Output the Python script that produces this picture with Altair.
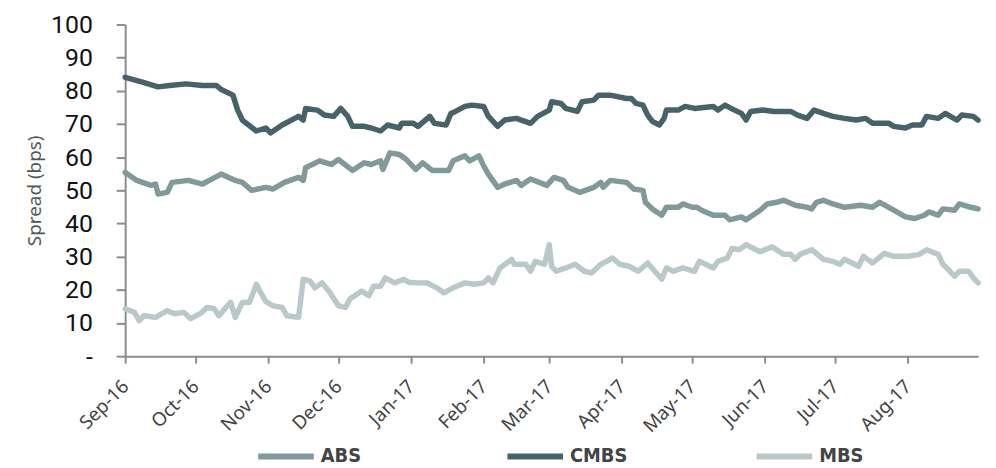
import altair as alt
import pandas as pd

series_names = ["ABS", "CMBS", "MBS"]
series_colors = ["#809a9c", "#46636a", "#b9c9c9"]

month_ticks = ["2016-09-01", "2016-10-01", "2016-11-01", "2016-12-01", "2017-01-01", "2017-02-01",
               "2017-03-01", "2017-04-01", "2017-05-01", "2017-06-01", "2017-07-01", "2017-08-01"]
y_ticks = [0, 10, 20, 30, 40, 50, 60, 70, 80, 90, 100]

cmbs_dates = ["2016-09-01", "2016-09-08", "2016-09-15", "2016-09-20", "2016-09-27", "2016-10-04", "2016-10-10",
              "2016-10-12", "2016-10-17", "2016-10-19", "2016-10-21", "2016-10-27", "2016-10-31", "2016-11-02",
              "2016-11-07", "2016-11-14", "2016-11-16", "2016-11-17", "2016-11-22", "2016-11-25", "2016-11-29",
              "2016-12-02", "2016-12-05", "2016-12-07", "2016-12-12", "2016-12-15", "2016-12-19", "2016-12-22",
              "2016-12-27", "2016-12-28", "2017-01-02", "2017-01-04", "2017-01-09", "2017-01-11", "2017-01-16",
              "2017-01-18", "2017-01-20", "2017-01-24", "2017-01-27", "2017-02-01", "2017-02-03", "2017-02-07",
              "2017-02-10", "2017-02-15", "2017-02-21", "2017-02-24", "2017-03-01", "2017-03-02", "2017-03-06",
              "2017-03-08", "2017-03-13", "2017-03-15", "2017-03-20", "2017-03-22", "2017-03-27", "2017-04-03",
              "2017-04-05", "2017-04-07", "2017-04-10", "2017-04-12", "2017-04-14", "2017-04-17", "2017-04-19",
              "2017-04-20", "2017-04-25", "2017-04-28", "2017-05-02", "2017-05-10", "2017-05-12", "2017-05-15",
              "2017-05-19", "2017-05-22", "2017-05-24", "2017-05-26", "2017-05-31", "2017-06-05", "2017-06-12",
              "2017-06-15", "2017-06-19", "2017-06-22", "2017-06-26", "2017-06-30", "2017-07-05", "2017-07-10",
              "2017-07-14", "2017-07-17", "2017-07-24", "2017-07-26", "2017-07-31", "2017-08-03", "2017-08-07",
              "2017-08-09", "2017-08-14", "2017-08-17", "2017-08-22", "2017-08-24", "2017-08-29", "2017-08-31"]
cmbs_values = [84.1, 82.7, 81.2, 81.6, 82.1, 81.6, 81.6,
               80.4, 78.7, 74.2, 71.2, 67.9, 68.8, 67.3,
               69.7, 72.3, 71.2, 74.7, 74.2, 72.7, 72.3,
               74.7, 72.3, 69.3, 69.3, 68.8, 67.9, 69.7,
               68.8, 70.2, 70.2, 69.3, 72.3, 70.2, 69.7,
               73.2, 73.8, 75.3, 75.7, 75.3, 72.3, 69.3,
               71.2, 71.7, 70.2, 72.3, 74.2, 76.7, 76.2,
               74.7, 73.8, 76.7, 77.2, 78.7, 78.7, 77.7,
               77.7, 76.2, 75.7, 72.7, 70.8, 69.7, 71.7,
               74.2, 74.2, 75.3, 74.7, 75.3, 74.2, 75.7,
               74.2, 73.2, 71.2, 73.8, 74.2, 73.8, 73.8,
               72.7, 71.7, 74.2, 73.2, 72.3, 71.7, 71.2,
               71.7, 70.2, 70.2, 69.3, 68.8, 69.7, 69.7,
               72.3, 71.7, 73.2, 71.2, 72.7, 72.3, 71.2]

abs_dates = ["2016-09-01", "2016-09-06", "2016-09-12", "2016-09-14", "2016-09-15", "2016-09-19", "2016-09-21",
             "2016-09-28", "2016-10-04", "2016-10-11", "2016-10-12", "2016-10-18", "2016-10-21", "2016-10-25",
             "2016-10-31", "2016-11-03", "2016-11-08", "2016-11-14", "2016-11-16", "2016-11-17", "2016-11-23",
             "2016-11-28", "2016-12-01", "2016-12-07", "2016-12-12", "2016-12-15", "2016-12-19", "2016-12-20",
             "2016-12-23", "2016-12-27", "2016-12-30", "2017-01-03", "2017-01-06", "2017-01-10", "2017-01-17",
             "2017-01-19", "2017-01-24", "2017-01-26", "2017-01-30", "2017-02-01", "2017-02-03", "2017-02-07",
             "2017-02-10", "2017-02-15", "2017-02-17", "2017-02-21", "2017-02-28", "2017-03-03", "2017-03-07",
             "2017-03-09", "2017-03-14", "2017-03-20", "2017-03-23", "2017-03-24", "2017-03-27", "2017-04-03",
             "2017-04-06", "2017-04-10", "2017-04-11", "2017-04-14", "2017-04-18", "2017-04-20", "2017-04-25",
             "2017-04-27", "2017-05-01", "2017-05-03", "2017-05-05", "2017-05-10", "2017-05-15", "2017-05-17",
             "2017-05-22", "2017-05-24", "2017-05-30", "2017-06-02", "2017-06-06", "2017-06-09", "2017-06-14",
             "2017-06-19", "2017-06-21", "2017-06-23", "2017-06-26", "2017-06-30", "2017-07-05", "2017-07-12",
             "2017-07-17", "2017-07-20", "2017-07-26", "2017-07-31", "2017-08-04", "2017-08-08", "2017-08-10",
             "2017-08-14", "2017-08-16", "2017-08-21", "2017-08-23", "2017-08-28", "2017-08-31"]
abs_values = [55.4, 53.0, 51.5, 51.9, 48.9, 49.4, 52.4,
              53.0, 51.9, 54.5, 54.9, 53.0, 52.4, 50.0,
              50.9, 50.4, 52.4, 53.9, 53.0, 56.8, 58.9,
              57.8, 59.3, 56.0, 58.3, 57.8, 58.9, 56.3,
              61.3, 60.8, 59.3, 56.3, 58.3, 56.0, 56.0,
              58.9, 60.4, 58.9, 60.4, 57.4, 54.9, 50.9,
              51.9, 53.0, 51.5, 53.4, 51.5, 53.9, 53.0,
              50.9, 49.4, 50.9, 52.4, 50.9, 53.0, 52.4,
              50.4, 50.0, 46.4, 44.4, 42.5, 44.9, 44.9,
              45.9, 44.9, 44.9, 44.0, 42.5, 42.5, 41.1,
              42.0, 41.1, 44.0, 45.9, 46.4, 47.0, 45.5,
              44.9, 44.4, 46.4, 47.0, 45.9, 44.9, 45.5,
              44.9, 46.4, 44.0, 42.0, 41.5, 42.5, 43.5,
              42.5, 44.4, 44.0, 45.9, 44.9, 44.4]

mbs_dates = ["2016-09-01", "2016-09-05", "2016-09-07", "2016-09-09", "2016-09-14", "2016-09-19", "2016-09-22",
             "2016-09-26", "2016-09-29", "2016-10-03", "2016-10-06", "2016-10-09", "2016-10-11", "2016-10-14",
             "2016-10-16", "2016-10-18", "2016-10-21", "2016-10-24", "2016-10-27", "2016-10-29", "2016-10-31",
             "2016-11-03", "2016-11-07", "2016-11-09", "2016-11-14", "2016-11-16", "2016-11-19", "2016-11-21",
             "2016-11-24", "2016-11-27", "2016-12-01", "2016-12-04", "2016-12-06", "2016-12-11", "2016-12-14",
             "2016-12-16", "2016-12-19", "2016-12-21", "2016-12-25", "2016-12-29", "2016-12-31", "2017-01-04",
             "2017-01-08", "2017-01-12", "2017-01-15", "2017-01-19", "2017-01-24", "2017-01-28", "2017-02-01",
             "2017-02-03", "2017-02-05", "2017-02-08", "2017-02-13", "2017-02-14", "2017-02-19", "2017-02-21",
             "2017-02-23", "2017-02-27", "2017-03-01", "2017-03-02", "2017-03-04", "2017-03-08", "2017-03-12",
             "2017-03-16", "2017-03-19", "2017-03-23", "2017-03-28", "2017-03-31", "2017-04-04", "2017-04-08",
             "2017-04-12", "2017-04-15", "2017-04-18", "2017-04-20", "2017-04-23", "2017-04-27", "2017-05-02",
             "2017-05-04", "2017-05-10", "2017-05-12", "2017-05-16", "2017-05-18", "2017-05-21", "2017-05-24",
             "2017-05-30", "2017-06-04", "2017-06-09", "2017-06-12", "2017-06-14", "2017-06-16", "2017-06-21",
             "2017-06-26", "2017-06-30", "2017-07-03", "2017-07-05", "2017-07-11", "2017-07-13", "2017-07-17",
             "2017-07-22", "2017-07-26", "2017-08-01", "2017-08-06", "2017-08-09", "2017-08-14", "2017-08-16",
             "2017-08-19", "2017-08-21", "2017-08-23", "2017-08-27", "2017-08-29", "2017-08-31"]
mbs_values = [14.3, 13.2, 10.7, 12.2, 11.7, 13.7, 12.8,
              13.2, 11.3, 12.8, 14.7, 14.3, 12.2, 14.7,
              16.2, 11.7, 16.2, 16.2, 21.7, 19.0, 16.5,
              15.2, 14.7, 12.2, 11.7, 23.2, 22.6, 20.6,
              22.1, 19.6, 15.2, 14.7, 17.3, 19.6, 18.2,
              21.1, 21.1, 23.6, 22.1, 23.2, 22.3, 22.1,
              22.1, 20.6, 19.1, 20.6, 22.1, 21.7, 22.1,
              23.6, 22.1, 26.6, 29.2, 27.7, 27.7, 25.6,
              28.6, 27.7, 33.6, 27.1, 25.6, 26.6, 27.7,
              25.6, 25.1, 27.7, 29.6, 27.7, 27.1, 25.6,
              28.1, 25.6, 23.2, 26.6, 25.6, 26.6, 25.6,
              28.6, 26.6, 28.6, 29.6, 32.5, 32.1, 33.6,
              31.5, 33.0, 30.7, 30.7, 29.2, 30.7, 32.1,
              29.2, 28.6, 27.7, 29.2, 27.1, 30.1, 28.1,
              31.0, 30.1, 30.1, 30.7, 32.1, 30.7, 27.7,
              25.6, 24.1, 25.6, 25.6, 23.6, 22.1]

frames = []
for name, d, v in [("ABS", abs_dates, abs_values), ("CMBS", cmbs_dates, cmbs_values), ("MBS", mbs_dates, mbs_values)]:
    frames.append(pd.DataFrame({"date": d, "spread": v, "series": name}))
df = pd.concat(frames, ignore_index=True)


def dt(s):
    return alt.DateTime(year=int(s[:4]), month=int(s[5:7]), date=int(s[8:10]), utc=True)


tick_values = [dt(s) for s in month_ticks]
x_domain = [dt("2016-09-01"), dt("2017-08-31")]

axis_color = "#8c8c8c"
label_font = "Noto Sans"

chart = alt.Chart(df).mark_line(strokeWidth=5.5, strokeCap="round", strokeJoin="round").encode(
    x=alt.X("date:T",
            scale=alt.Scale(type="utc", domain=x_domain, nice=False),
            axis=alt.Axis(values=tick_values, format="%b-%y", labelAngle=315, labelAlign="right",
                          labelBaseline="middle", labelFont=label_font, labelFontSize=19,
                          labelColor="#444444", labelPadding=20, tickSize=7, tickWidth=2,
                          tickColor=axis_color, domainColor=axis_color, domainWidth=2,
                          grid=False, title=None, labelOverlap=False, labelFlush=False)),
    y=alt.Y("spread:Q",
            scale=alt.Scale(domain=[0, 100], nice=False, zero=False),
            axis=alt.Axis(values=y_ticks, labelExpr="datum.value == 0 ? '-' : datum.label",
                          labelFont="Roboto", labelFontSize=25, labelColor="#111111",
                          labelPadding=24, tickSize=9, tickWidth=2, tickColor=axis_color,
                          domainColor=axis_color, domainWidth=2, grid=False,
                          title="Spread (bps)", titleFont=label_font, titleFontSize=19,
                          titleFontWeight="normal", titleColor="#555555", titlePadding=6,
                          labelOverlap=False, labelFlush=False)),
    color=alt.Color("series:N",
                    scale=alt.Scale(domain=series_names, range=series_colors),
                    legend=alt.Legend(title=None, orient="none", legendX=131, legendY=423,
                                      direction="horizontal", columns=3, gridAlign="all",
                                      symbolType="stroke", symbolStrokeWidth=6, symbolSize=3136,
                                      clipHeight=24,
                                      labelFont="Liberation Sans Narrow, DejaVu Sans Condensed, sans-serif",
                                      labelFontSize=20, labelFontWeight="bold", labelColor="#444444",
                                      labelOffset=4, columnPadding=127, padding=0)),
).properties(
    width=859,
    height=334,
    autosize=alt.AutoSizeParams(type="none"),
    padding={"left": 118, "top": 15, "right": 10, "bottom": 111},
).configure_view(strokeWidth=0)

chart.save("out.html", embed_options={"renderer": "svg", "actions": False})
